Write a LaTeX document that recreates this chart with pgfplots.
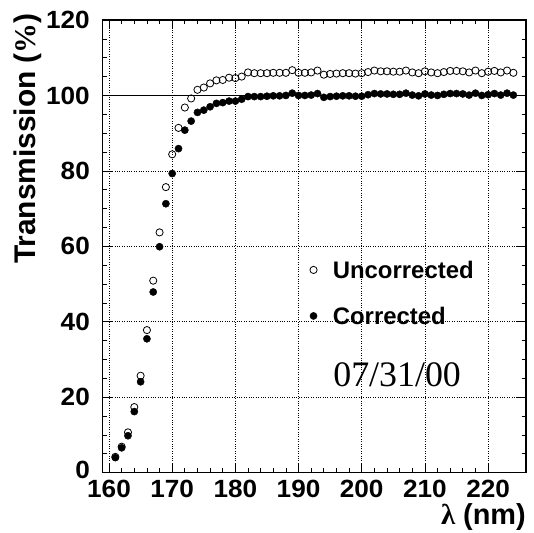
\documentclass[border=0pt]{standalone}
\usepackage{fontspec}
\setmainfont{Liberation Sans}
\newfontfamily\seriffont{Liberation Serif}
\newfontfamily\tickfont{Liberation Sans}[FakeStretch=1.05]
\usepackage{pgfplots}
\pgfplotsset{compat=1.18}
\begin{document}
\begin{tikzpicture}
\begin{axis}[
  scale only axis, width=423.3bp, height=452.7bp,
  xmin=159, xmax=226, ymin=0, ymax=120,
  xtick={160,170,...,220}, ytick={0,20,...,120},
  yticklabels={\raisebox{5bp}{0},20,40,60,80,100,120},
  minor x tick num=4, minor y tick num=3,
  tick align=inside, xtick pos=both, ytick pos=both,
  major tick length=9bp, minor tick length=4.5bp,
  axis line style={line width=1.5bp},
  every tick/.style={black, line width=0.7bp},
  grid=major, major grid style={black, dotted, line width=0.6bp},
  /pgf/number format/assume math mode=true,
  tick label style={font=\tickfont\fontsize{25}{28}\selectfont\bfseries, inner sep=0pt},
  xticklabel style={yshift=-7.3bp},
  yticklabel style={xshift=-12.7bp},
  legend style={at={(axis cs:191.8,56)}, anchor=north west, draw=none, fill=none,
    inner sep=0pt, outer sep=0pt,
    font=\fontsize{24}{28}\selectfont\bfseries, row sep=29bp, column sep=15.7bp,
    nodes={inner sep=0pt, text height=17bp, text depth=0pt},
    legend cell align=left},
  legend image code/.code={\draw[#1] plot coordinates {(0bp,0bp)};},
]
\addplot[only marks, mark=o, mark size=3.6bp, line width=0.8bp, black] coordinates {
(161,4.2)(162,6.9)(163,10.7)(164,17.4)(165,25.7)(166,37.8)(167,50.9)(168,63.7)
(169,75.7)(170,84.4)(171,91.4)(172,96.8)(173,99.2)(174,101.5)(175,102.1)(176,103.2)
(177,104.0)(178,104.1)(179,104.7)(180,104.6)(181,105.0)(182,106.1)(183,105.9)(184,105.9)
(185,105.9)(186,106.0)(187,106.0)(188,106.0)(189,106.7)(190,106.0)(191,106.0)(192,106.1)
(193,106.6)(194,105.5)(195,105.7)(196,105.8)(197,105.9)(198,105.9)(199,105.8)(200,105.9)
(201,106.2)(202,106.6)(203,106.4)(204,106.4)(205,106.3)(206,106.3)(207,106.6)(208,106.1)
(209,105.9)(210,106.4)(211,106.1)(212,105.9)(213,106.2)(214,106.5)(215,106.5)(216,106.4)
(217,106.1)(218,106.6)(219,105.9)(220,106.3)(221,106.5)(222,106.1)(223,106.6)(224,106.0)
};
\addlegendentry{Uncorrected}
\addplot[only marks, mark=*, mark size=3.6bp, black] coordinates {
(161,4.0)(162,6.6)(163,9.8)(164,16.2)(165,24.1)(166,35.5)(167,47.9)(168,59.9)
(169,71.3)(170,79.3)(171,85.9)(172,90.8)(173,93.2)(174,95.5)(175,96.1)(176,97.0)
(177,97.9)(178,98.1)(179,98.5)(180,98.5)(181,99.0)(182,99.7)(183,99.7)(184,99.7)
(185,99.8)(186,99.9)(187,99.9)(188,100.0)(189,100.6)(190,100.0)(191,100.0)(192,100.1)
(193,100.5)(194,99.5)(195,99.7)(196,99.8)(197,99.9)(198,99.9)(199,99.8)(200,99.8)
(201,100.2)(202,100.5)(203,100.4)(204,100.4)(205,100.3)(206,100.3)(207,100.6)(208,100.1)
(209,99.9)(210,100.4)(211,100.1)(212,100.0)(213,100.3)(214,100.5)(215,100.5)(216,100.4)
(217,100.1)(218,100.6)(219,100.0)(220,100.2)(221,100.5)(222,100.1)(223,100.6)(224,100.1)
};
\addlegendentry{Corrected}
\draw[black, line width=0.8bp] (axis cs:159,100) -- (axis cs:226,100);
\node[font=\seriffont\fontsize{36}{40}\selectfont] at (axis cs:205.6,26.0) {07/31/00};
\end{axis}
\node[anchor=north east, font=\fontsize{29}{33}\selectfont\bfseries, inner sep=0pt]
  at (423.3bp,-31bp) {{\seriffont\char"03BB} (nm)};
\node[anchor=south east, rotate=90, font=\fontsize{30}{34}\selectfont\bfseries, inner sep=0pt]
  at (-61bp,459.7bp) {Transmission ({\seriffont\%})};
\pgfresetboundingbox
\path (-102.7bp,-60.3bp) rectangle (431.3bp,472.7bp);
\end{tikzpicture}
\end{document}
